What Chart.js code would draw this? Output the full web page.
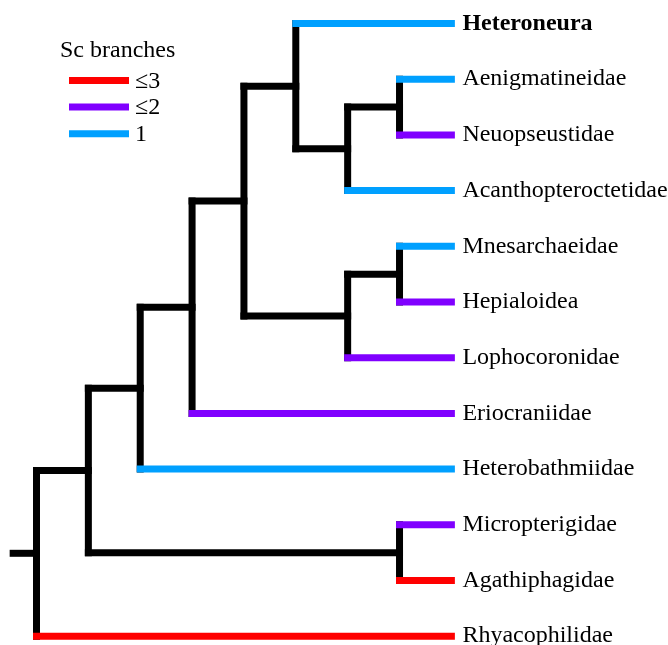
<!DOCTYPE html>
<html>
<head>
<meta charset="utf-8">
<script src="https://cdn.jsdelivr.net/npm/chart.js@4"></script>
<style>
html,body{margin:0;padding:0;background:#fff;}
#wrap{width:668px;height:645px;position:relative;}
.pre{position:absolute;left:-9999px;top:0;font-family:"Liberation Serif";font-size:24px;}
</style>
</head>
<body>
<span class="pre">Sc branches ≤3</span><span class="pre" style="font-weight:bold">Heteroneura</span>
<div id="wrap"><canvas id="c" width="668" height="645"></canvas></div>
<script>
// ---- data ----
const leaves = ['Heteroneura','Aenigmatineidae','Neuopseustidae','Acanthopteroctetidae',
  'Mnesarchaeidae','Hepialoidea','Lophocoronidae','Eriocraniidae','Heterobathmiidae',
  'Micropterigidae','Agathiphagidae','Rhyacophilidae'];
const leafClass = ['1','1','≤2','1','1','≤2','≤2','≤2','1','≤2','≤3','≤3'];
const boldLeaves = ['Heteroneura'];
// internal nodes: name, child A, child B, depth (column)
const nodeNames    = ['A','B','C','D','E','F','G','H','I','J','R'];
const nodeChildA   = [1,  'A', 0,  4,  'D','C','F','G', 9, 'H','J'];
const nodeChildB   = [2,  3,  'B', 5,  6,  'E', 7,  8,  10, 'I', 11];
const nodeDepth    = [7,  6,  5,  7,  6,  4,  3,  2,  7,  1,  0];
const leafDepth = 8;
const rootStubDepth = -0.45;
const legendTitle = 'Sc branches';
const legendLabels = ['≤3','≤2','1'];
const classColors = {'≤3':'#ff0000','≤2':'#8000ff','1':'#00a0ff'};

// ---- layout constants ----
const X0 = 36.5, DX = 51.86, Y0 = 23.5, DY = 55.7, W = 668, H = 645;
const LW = 7;
const FONT = '"Liberation Serif", "Times New Roman", Times, serif';

const nodeY = {};
function yOf(ref){ return typeof ref === 'number' ? ref : nodeY[ref]; }
function xOf(ref){ return typeof ref === 'number' ? leafDepth : nodeDepth[nodeNames.indexOf(ref)]; }
nodeNames.forEach((n,i)=>{ nodeY[n] = (yOf(nodeChildA[i]) + yOf(nodeChildB[i]))/2; });

const datasets = [];
function seg(pts, color, order){
  datasets.push({data: pts, borderColor: color, backgroundColor: color, borderWidth: LW,
    showLine: true, pointRadius: 0, pointHoverRadius: 0, borderCapStyle: 'square',
    borderJoinStyle: 'miter', fill: false, order: order, tension: 0});
}
nodeNames.forEach((n,i)=>{
  const d = nodeDepth[i];
  const a = nodeChildA[i], b = nodeChildB[i];
  seg([{x:d,y:yOf(a)},{x:d,y:yOf(b)}], '#000', 2);
  [a,b].forEach(ch=>{
    if (typeof ch === 'number') {
      seg([{x:d,y:ch},{x:leafDepth,y:ch}], classColors[leafClass[ch]], 0);
    } else {
      seg([{x:d,y:nodeY[ch]},{x:xOf(ch),y:nodeY[ch]}], '#000', 2);
    }
  });
});
seg([{x:rootStubDepth,y:nodeY['R']},{x:0,y:nodeY['R']}], '#000', 2);

const labelPlugin = {
  id:'labels',
  afterDatasetsDraw(chart){
    const ctx = chart.ctx, xs = chart.scales.x, ys = chart.scales.y;
    ctx.save();
    ctx.fillStyle = '#000';
    ctx.textBaseline = 'middle';
    ctx.textAlign = 'left';
    leaves.forEach((name,i)=>{
      ctx.font = (boldLeaves.includes(name)?'bold ':'') + '24px ' + FONT;
      ctx.fillText(name, xs.getPixelForValue(leafDepth) + 11, ys.getPixelForValue(i));
    });
    ctx.font = '24px ' + FONT;
    ctx.textBaseline = 'alphabetic';
    ctx.fillText(legendTitle, 60, 57);
    legendLabels.forEach((lab,i)=>{
      const y = 80.5 + i*26.6;
      ctx.strokeStyle = classColors[lab];
      ctx.lineWidth = LW;
      ctx.lineCap = 'butt';
      ctx.beginPath(); ctx.moveTo(69,y); ctx.lineTo(129,y); ctx.stroke();
      ctx.textBaseline = 'middle';
      ctx.fillText(lab, 135, y + 1);
    });
    ctx.restore();
  }
};

function build(){
  new Chart(document.getElementById('c'), {
    type: 'scatter',
    data: { datasets },
    options: {
      responsive: false,
      animation: false,
      events: [],
      layout: { padding: 0 },
      plugins: { legend: { display: false }, tooltip: { enabled: false } },
      scales: {
        x: { type: 'linear', display: false, min: -X0/DX, max: (W - X0)/DX },
        y: { type: 'linear', display: false, reverse: true, min: -Y0/DY, max: (H - Y0)/DY }
      }
    },
    plugins: [labelPlugin]
  });
}
if (document.fonts && document.fonts.load) {
  Promise.all([document.fonts.load('24px "Liberation Serif"'), document.fonts.load('bold 24px "Liberation Serif"')])
    .then(build, build);
} else build();
</script>
</body>
</html>
